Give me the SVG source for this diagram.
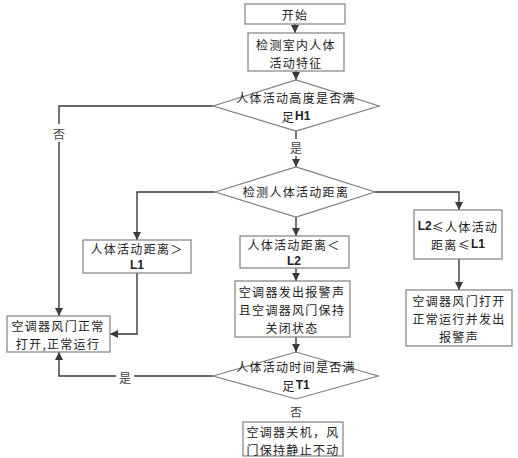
<svg xmlns="http://www.w3.org/2000/svg" width="518" height="458" viewBox="0 0 518 458">
<defs>
<marker id="ah" viewBox="0 0 10 10" refX="10" refY="5" markerWidth="8" markerHeight="8" markerUnits="userSpaceOnUse" orient="auto">
<path d="M0,0 L10,5 L0,10 z" fill="#3a3a3a"/>
</marker>
<style>
.box{fill:#fff;stroke:#808080;stroke-width:1.2}
.t{font-family:"Noto Sans CJK SC","Liberation Sans",sans-serif;font-size:12px;letter-spacing:1.3px;fill:#222;text-anchor:middle;dominant-baseline:central}
.b{font-family:"Liberation Sans",sans-serif;font-weight:bold;font-size:12px;letter-spacing:0}
.c{fill:none;stroke:#3a3a3a;stroke-width:1.4;marker-end:url(#ah)}
.lbl{font-family:"Noto Sans CJK SC","Liberation Sans",sans-serif;font-size:12px;fill:#444;text-anchor:middle;dominant-baseline:central}
</style>
</defs>
<rect width="518" height="458" fill="#fff"/>
<g id="connectors">
<path class="c" d="M295,24 L295,33"/>
<path class="c" d="M296,71 L296,80"/>
<path class="c" d="M213,106 L59,106 L59,316"/>
<path class="c" d="M296,131 L296,167"/>
<path class="c" d="M215,192 L137,192 L137,240"/>
<path class="c" d="M296,217 L296,236"/>
<path class="c" d="M375,192 L459,192 L459,210"/>
<path class="c" d="M137,273 L137,334 L110,334"/>
<path class="c" d="M296,268 L296,281"/>
<path class="c" d="M459,259 L459,290"/>
<path class="c" d="M296,337 L296,352"/>
<path class="c" d="M213,376 L59,376 L59,352"/>
<rect x="50" y="124" width="18" height="18" fill="#fff"/>
<text class="lbl" x="59" y="133">否</text>
<rect x="287" y="139" width="18" height="17" fill="#fff"/>
<text class="lbl" x="296" y="147">是</text>
<rect x="116" y="369" width="18" height="16" fill="#fff"/>
<text class="lbl" x="125" y="377">是</text>
<text class="lbl" x="296" y="411">否</text>
</g>
<g id="start"><rect class="box" x="245" y="4" width="100" height="20"/><text class="t" x="295" y="14">开始</text></g>
<g id="detect"><rect class="box" x="248" y="33" width="96" height="38"/><text class="t" x="296" y="44">检测室内人体</text><text class="t" x="296" y="62">活动特征</text></g>
<g id="height"><polygon class="box" points="213,106 296,80 379,106 296,131"/><text class="t" x="296" y="97">人体活动高度是否满</text><text class="t" x="296" y="116">足<tspan class="b">H1</tspan></text></g>
<g id="distance"><polygon class="box" points="215,192 296,167 375,192 296,217"/><text class="t" x="296" y="191">检测人体活动距离</text></g>
<g id="gtL1"><rect class="box" x="83" y="240" width="108" height="33"/><text class="t" x="137" y="248">人体活动距离＞</text><text class="t" x="137" y="265"><tspan class="b">L1</tspan></text></g>
<g id="ltL2"><rect class="box" x="240" y="236" width="109" height="32"/><text class="t" x="294" y="244">人体活动距离＜</text><text class="t" x="294" y="261"><tspan class="b">L2</tspan></text></g>
<g id="range"><rect class="box" x="414" y="210" width="88" height="49"/><text class="t" x="458" y="226"><tspan class="b">L2</tspan>≤人体活动</text><text class="t" x="458" y="244">距离≤<tspan class="b">L1</tspan></text></g>
<g id="normal"><rect class="box" x="7" y="316" width="103" height="36"/><text class="t" x="58" y="325">空调器风门正常</text><text class="t" x="58" y="343">打开,正常运行</text></g>
<g id="alarm"><rect class="box" x="235" y="281" width="115" height="56"/><text class="t" x="292" y="291">空调器发出报警声</text><text class="t" x="292" y="309">且空调器风门保持</text><text class="t" x="292" y="327">关闭状态</text></g>
<g id="time"><polygon class="box" points="213,376 296,352 378,376 296,399"/><text class="t" x="296" y="366">人体活动时间是否满</text><text class="t" x="296" y="385">足<tspan class="b">T1</tspan></text></g>
<g id="off"><rect class="box" x="243" y="422" width="100" height="34"/><text class="t" x="293" y="431">空调器关机，风</text><text class="t" x="293" y="449">门保持静止不动</text></g>
<g id="openAlarm"><rect class="box" x="406" y="290" width="106" height="56"/><text class="t" x="459" y="300">空调器风门打开</text><text class="t" x="459" y="318">正常运行并发出</text><text class="t" x="459" y="336">报警声</text></g>
</svg>
